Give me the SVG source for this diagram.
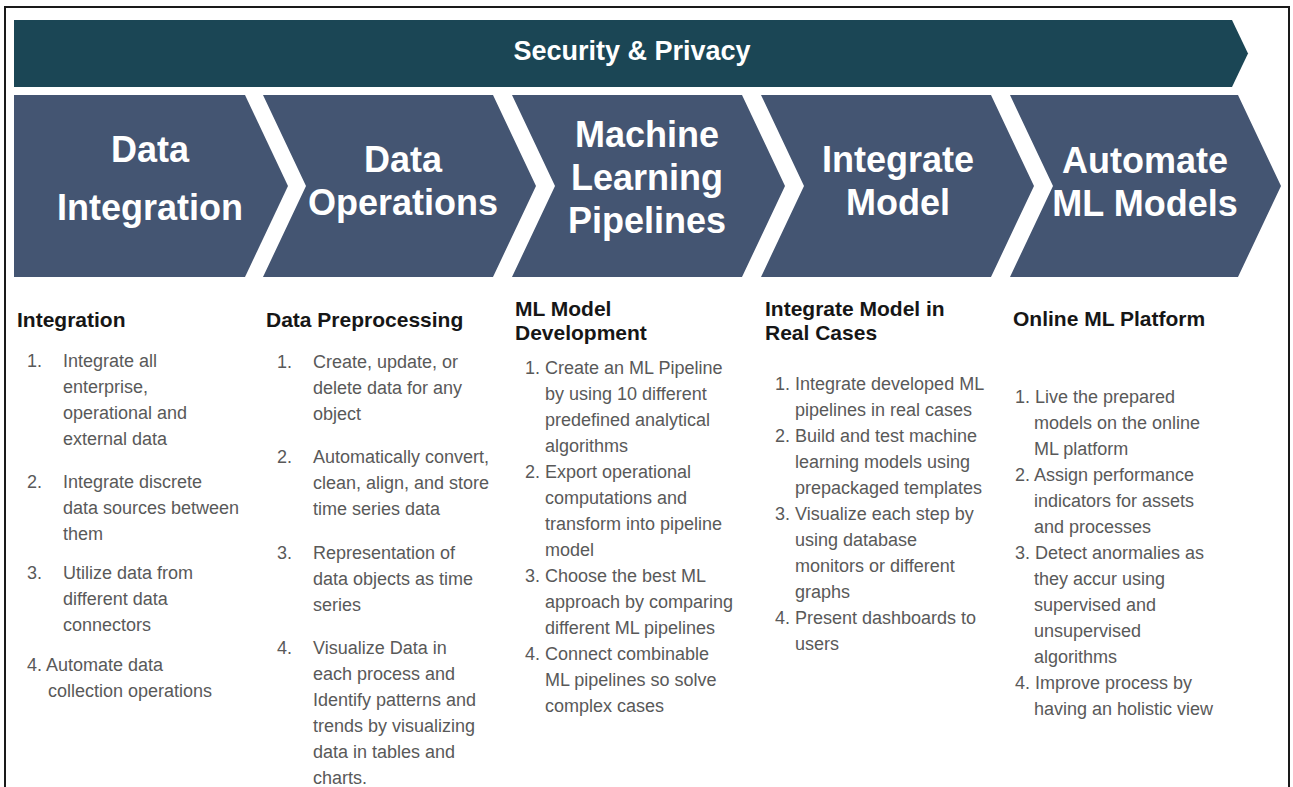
<svg xmlns="http://www.w3.org/2000/svg" width="1293" height="787" viewBox="0 0 1293 787">
  <style>
    .banner { fill: #1b4655; }
    .chev { fill: #445572; }
    .title { font-family: "Liberation Sans", Arial, sans-serif; font-weight: bold; font-size: 36px; fill: #ffffff; text-anchor: middle; }
    .sec { font-family: "Liberation Sans", Arial, sans-serif; font-weight: bold; font-size: 27px; fill: #ffffff; text-anchor: middle; }
    .head { font-family: "Liberation Sans", Arial, sans-serif; font-weight: bold; font-size: 21px; fill: #161616; }
    .body { font-family: "Liberation Sans", Arial, sans-serif; font-size: 18px; fill: #595959; }
  </style>
  <rect width="1293" height="787" fill="#ffffff"/>
  <!-- frame: open at the bottom -->
  <path d="M5,787 V7 H1289 V787" fill="none" stroke="#1a1a1a" stroke-width="2"/>

  <!-- Security & Privacy banner -->
  <g id="security">
    <path class="banner" d="M14,20 H1232 L1248,53.5 L1232,87 H14 Z"/>
    <text class="sec" x="632" y="60">Security &amp; Privacy</text>
  </g>

  <!-- stage chevrons -->
  <g id="stage-data-integration">
    <path class="chev" d="M14,95 H245 L288,186 L245,277 H14 Z"/>
    <text class="title" x="150" y="162">Data</text>
    <text class="title" x="150" y="220">Integration</text>
  </g>
  <g id="stage-data-operations">
    <path class="chev" d="M263,95 H493 L536,186 L493,277 H263 L306,186 Z"/>
    <text class="title" x="403" y="172">Data</text>
    <text class="title" x="403" y="215">Operations</text>
  </g>
  <g id="stage-ml-pipelines">
    <path class="chev" d="M512,95 H742 L785,186 L742,277 H512 L555,186 Z"/>
    <text class="title" x="647" y="147">Machine</text>
    <text class="title" x="647" y="190">Learning</text>
    <text class="title" x="647" y="233">Pipelines</text>
  </g>
  <g id="stage-integrate-model">
    <path class="chev" d="M761,95 H991 L1034,186 L991,277 H761 L804,186 Z"/>
    <text class="title" x="898" y="172">Integrate</text>
    <text class="title" x="898" y="215">Model</text>
  </g>
  <g id="stage-automate">
    <path class="chev" d="M1010,95 H1238 L1281,186 L1238,277 H1010 L1053,186 Z"/>
    <text class="title" x="1145" y="173">Automate</text>
    <text class="title" x="1145" y="216">ML Models</text>
  </g>

  <!-- stages are adjacent chevrons; no separate connectors -->
  <g id="connectors"/>

  <!-- column 1 -->
  <g id="col-integration">
    <text class="head" x="17" y="327">Integration</text>
    <text class="body" x="27" y="367">1.</text>
    <text class="body" x="63" y="367">Integrate all</text>
    <text class="body" x="63" y="393">enterprise,</text>
    <text class="body" x="63" y="419">operational and</text>
    <text class="body" x="63" y="445">external data</text>
    <text class="body" x="27" y="488">2.</text>
    <text class="body" x="63" y="488">Integrate discrete</text>
    <text class="body" x="63" y="514">data sources between</text>
    <text class="body" x="63" y="540">them</text>
    <text class="body" x="27" y="579">3.</text>
    <text class="body" x="63" y="579">Utilize data from</text>
    <text class="body" x="63" y="605">different data</text>
    <text class="body" x="63" y="631">connectors</text>
    <text class="body" x="27" y="671">4. Automate data</text>
    <text class="body" x="48" y="697">collection operations</text>
  </g>

  <!-- column 2 -->
  <g id="col-preprocessing">
    <text class="head" x="266" y="327">Data Preprocessing</text>
    <text class="body" x="277" y="368">1.</text>
    <text class="body" x="313" y="368">Create, update, or</text>
    <text class="body" x="313" y="394">delete data for any</text>
    <text class="body" x="313" y="420">object</text>
    <text class="body" x="277" y="463">2.</text>
    <text class="body" x="313" y="463">Automatically convert,</text>
    <text class="body" x="313" y="489">clean, align, and store</text>
    <text class="body" x="313" y="515">time series data</text>
    <text class="body" x="277" y="559">3.</text>
    <text class="body" x="313" y="559">Representation of</text>
    <text class="body" x="313" y="585">data objects as time</text>
    <text class="body" x="313" y="611">series</text>
    <text class="body" x="277" y="654">4.</text>
    <text class="body" x="313" y="654">Visualize Data in</text>
    <text class="body" x="313" y="680">each process and</text>
    <text class="body" x="313" y="706">Identify patterns and</text>
    <text class="body" x="313" y="732">trends by visualizing</text>
    <text class="body" x="313" y="758">data in tables and</text>
    <text class="body" x="313" y="784">charts.</text>
  </g>

  <!-- column 3 -->
  <g id="col-ml-development">
    <text class="head" x="515" y="316">ML Model</text>
    <text class="head" x="515" y="340">Development</text>
    <text class="body" x="525" y="374">1. Create an ML Pipeline</text>
    <text class="body" x="545" y="400">by using 10 different</text>
    <text class="body" x="545" y="426">predefined analytical</text>
    <text class="body" x="545" y="452">algorithms</text>
    <text class="body" x="525" y="478">2. Export operational</text>
    <text class="body" x="545" y="504">computations and</text>
    <text class="body" x="545" y="530">transform into pipeline</text>
    <text class="body" x="545" y="556">model</text>
    <text class="body" x="525" y="582">3. Choose the best ML</text>
    <text class="body" x="545" y="608">approach by comparing</text>
    <text class="body" x="545" y="634">different ML pipelines</text>
    <text class="body" x="525" y="660">4. Connect combinable</text>
    <text class="body" x="545" y="686">ML pipelines so solve</text>
    <text class="body" x="545" y="712">complex cases</text>
  </g>

  <!-- column 4 -->
  <g id="col-real-cases">
    <text class="head" x="765" y="316">Integrate Model in</text>
    <text class="head" x="765" y="340">Real Cases</text>
    <text class="body" x="775" y="390">1. Integrate developed ML</text>
    <text class="body" x="795" y="416">pipelines in real cases</text>
    <text class="body" x="775" y="442">2. Build and test machine</text>
    <text class="body" x="795" y="468">learning models using</text>
    <text class="body" x="795" y="494">prepackaged templates</text>
    <text class="body" x="775" y="520">3. Visualize each step by</text>
    <text class="body" x="795" y="546">using database</text>
    <text class="body" x="795" y="572">monitors or different</text>
    <text class="body" x="795" y="598">graphs</text>
    <text class="body" x="775" y="624">4. Present dashboards to</text>
    <text class="body" x="795" y="650">users</text>
  </g>

  <!-- column 5 -->
  <g id="col-online-platform">
    <text class="head" x="1013" y="326">Online ML Platform</text>
    <text class="body" x="1015" y="403">1. Live the prepared</text>
    <text class="body" x="1034" y="429">models on the online</text>
    <text class="body" x="1034" y="455">ML platform</text>
    <text class="body" x="1015" y="481">2. Assign performance</text>
    <text class="body" x="1034" y="507">indicators for assets</text>
    <text class="body" x="1034" y="533">and processes</text>
    <text class="body" x="1015" y="559">3. Detect anormalies as</text>
    <text class="body" x="1034" y="585">they accur using</text>
    <text class="body" x="1034" y="611">supervised and</text>
    <text class="body" x="1034" y="637">unsupervised</text>
    <text class="body" x="1034" y="663">algorithms</text>
    <text class="body" x="1015" y="689">4. Improve process by</text>
    <text class="body" x="1034" y="715">having an holistic view</text>
  </g>
</svg>
